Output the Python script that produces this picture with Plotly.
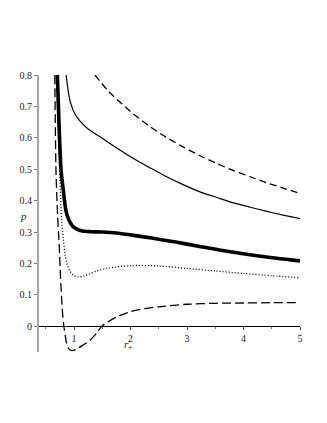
import plotly.graph_objects as go

# r_+ / p samples, one list pair per curve
r_upper = [1.37, 1.46, 1.6, 1.81, 2.05, 2.35, 2.64, 2.93, 3.23, 3.53, 3.82, 4.12, 4.41, 4.7, 5.0]
p_upper = [0.80, 0.78, 0.75, 0.714, 0.676, 0.635, 0.601, 0.571, 0.543, 0.518, 0.496, 0.476, 0.457, 0.44, 0.423]

r_mid = [0.86, 0.90, 0.95, 1.02, 1.1, 1.25, 1.46, 1.75, 2.05, 2.35, 2.64, 2.93, 3.23, 3.53, 3.82, 4.12, 4.41, 4.7, 5.0]
p_mid = [0.80, 0.745, 0.705, 0.675, 0.655, 0.628, 0.603, 0.568, 0.534, 0.504, 0.476, 0.451, 0.428, 0.41, 0.393,
         0.379, 0.366, 0.354, 0.343]

r_crit = [0.705, 0.735, 0.77, 0.81, 0.855, 0.91, 0.97, 1.05, 1.15, 1.3, 1.5, 1.75, 2.0, 2.4, 2.8, 3.2, 3.6, 4.3, 5.0]
p_crit = [0.80, 0.64, 0.497, 0.433, 0.37, 0.338, 0.32, 0.309, 0.303, 0.301, 0.300, 0.297, 0.291, 0.28, 0.268, 0.255,
          0.242, 0.223, 0.208]

r_low = [0.69, 0.72, 0.745, 0.78, 0.81, 0.84, 0.88, 0.93, 0.99, 1.08, 1.18, 1.28, 1.4, 1.6, 2.0, 2.5, 3.0, 3.5, 4.0,
         4.5, 5.0]
p_low = [0.80, 0.62, 0.497, 0.338, 0.28, 0.23, 0.195, 0.175, 0.162, 0.157, 0.16, 0.167, 0.176, 0.185, 0.193, 0.192,
         0.184, 0.176, 0.168, 0.161, 0.154]

r_neg = [0.66, 0.68, 0.71, 0.74, 0.755, 0.77, 0.785, 0.80, 0.82, 0.845, 0.87, 0.91, 0.95, 1.0, 1.05, 1.15,
         1.28, 1.4, 1.49, 1.6, 1.76, 1.99, 2.25, 2.5, 3.0, 3.5, 4.0, 4.5, 5.0]
p_neg = [0.80, 0.50, 0.35, 0.25, 0.178, 0.125, 0.072, 0.035, 0.0, -0.03, -0.055, -0.072, -0.077, -0.076, -0.072,
         -0.061, -0.045, -0.022, 0.0, 0.014, 0.03, 0.046, 0.056, 0.062, 0.070, 0.073, 0.074, 0.075, 0.075]

x_ticks = [1, 2, 3, 4, 5]
y_ticks = [0, 0.1, 0.2, 0.3, 0.4, 0.5, 0.6, 0.7, 0.8]
y_labels = ["0", "0.1", "0.2", "0.3", "0.4", "0.5", "0.6", "0.7", "0.8"]

X_RANGE = [0.38, 5.0]
Y_RANGE = [-0.082, 0.8]
SERIF = "Liberation Serif"

curves = [
    (r_upper, p_upper, {"width": 1.3, "dash": "7px,4px"}),
    (r_mid, p_mid, {"width": 1.2}),
    (r_crit, p_crit, {"width": 3.6}),
    (r_low, p_low, {"width": 1.3, "dash": "1px,2px"}),
    (r_neg, p_neg, {"width": 1.3, "dash": "9px,4px"}),
]

fig = go.Figure()
for xs, ys, style in curves:
    fig.add_trace(
        go.Scatter(
            x=xs,
            y=ys,
            mode="lines",
            line={"color": "black", "shape": "spline", "smoothing": 0.7, **style},
            showlegend=False,
            hoverinfo="skip",
        )
    )

zero_pos = (0 - Y_RANGE[0]) / (Y_RANGE[1] - Y_RANGE[0])

# the page body adds an 8px offset, so the figure is drawn 8px smaller
fig.update_layout(
    width=319,
    height=415,
    margin={"l": 31, "r": 27, "t": 67, "b": 71},
    paper_bgcolor="white",
    plot_bgcolor="white",
    font={"family": SERIF, "size": 10, "color": "#222"},
    xaxis={
        "range": X_RANGE,
        "anchor": "free",
        "position": zero_pos,
        "showline": True,
        "linecolor": "black",
        "linewidth": 1,
        "showgrid": False,
        "zeroline": False,
        "tickvals": x_ticks,
        "ticks": "outside",
        "ticklen": 3,
        "tickcolor": "#444",
        "minor": {"dtick": 0.5, "ticks": "outside", "ticklen": 2, "tickcolor": "#777"},
        "tickfont": {"family": SERIF, "size": 10},
    },
    yaxis={
        "range": Y_RANGE,
        "showline": True,
        "linecolor": "#a6a6a6",
        "linewidth": 2,
        "showgrid": False,
        "zeroline": False,
        "tickvals": y_ticks,
        "ticktext": y_labels,
        "ticks": "outside",
        "ticklen": 3,
        "tickcolor": "#777",
        "tickfont": {"family": SERIF, "size": 10},
    },
    annotations=[
        {"text": "<i>p</i>", "xref": "paper", "yref": "y", "x": -0.08, "y": 0.35,
         "showarrow": False, "font": {"family": SERIF, "size": 11}},
        {"text": "<i>r</i><sub>+</sub>", "xref": "x", "yref": "y", "x": 1.96, "y": -0.06,
         "showarrow": False, "font": {"family": SERIF, "size": 11}},
    ],
)

fig.write_html("out.html")
